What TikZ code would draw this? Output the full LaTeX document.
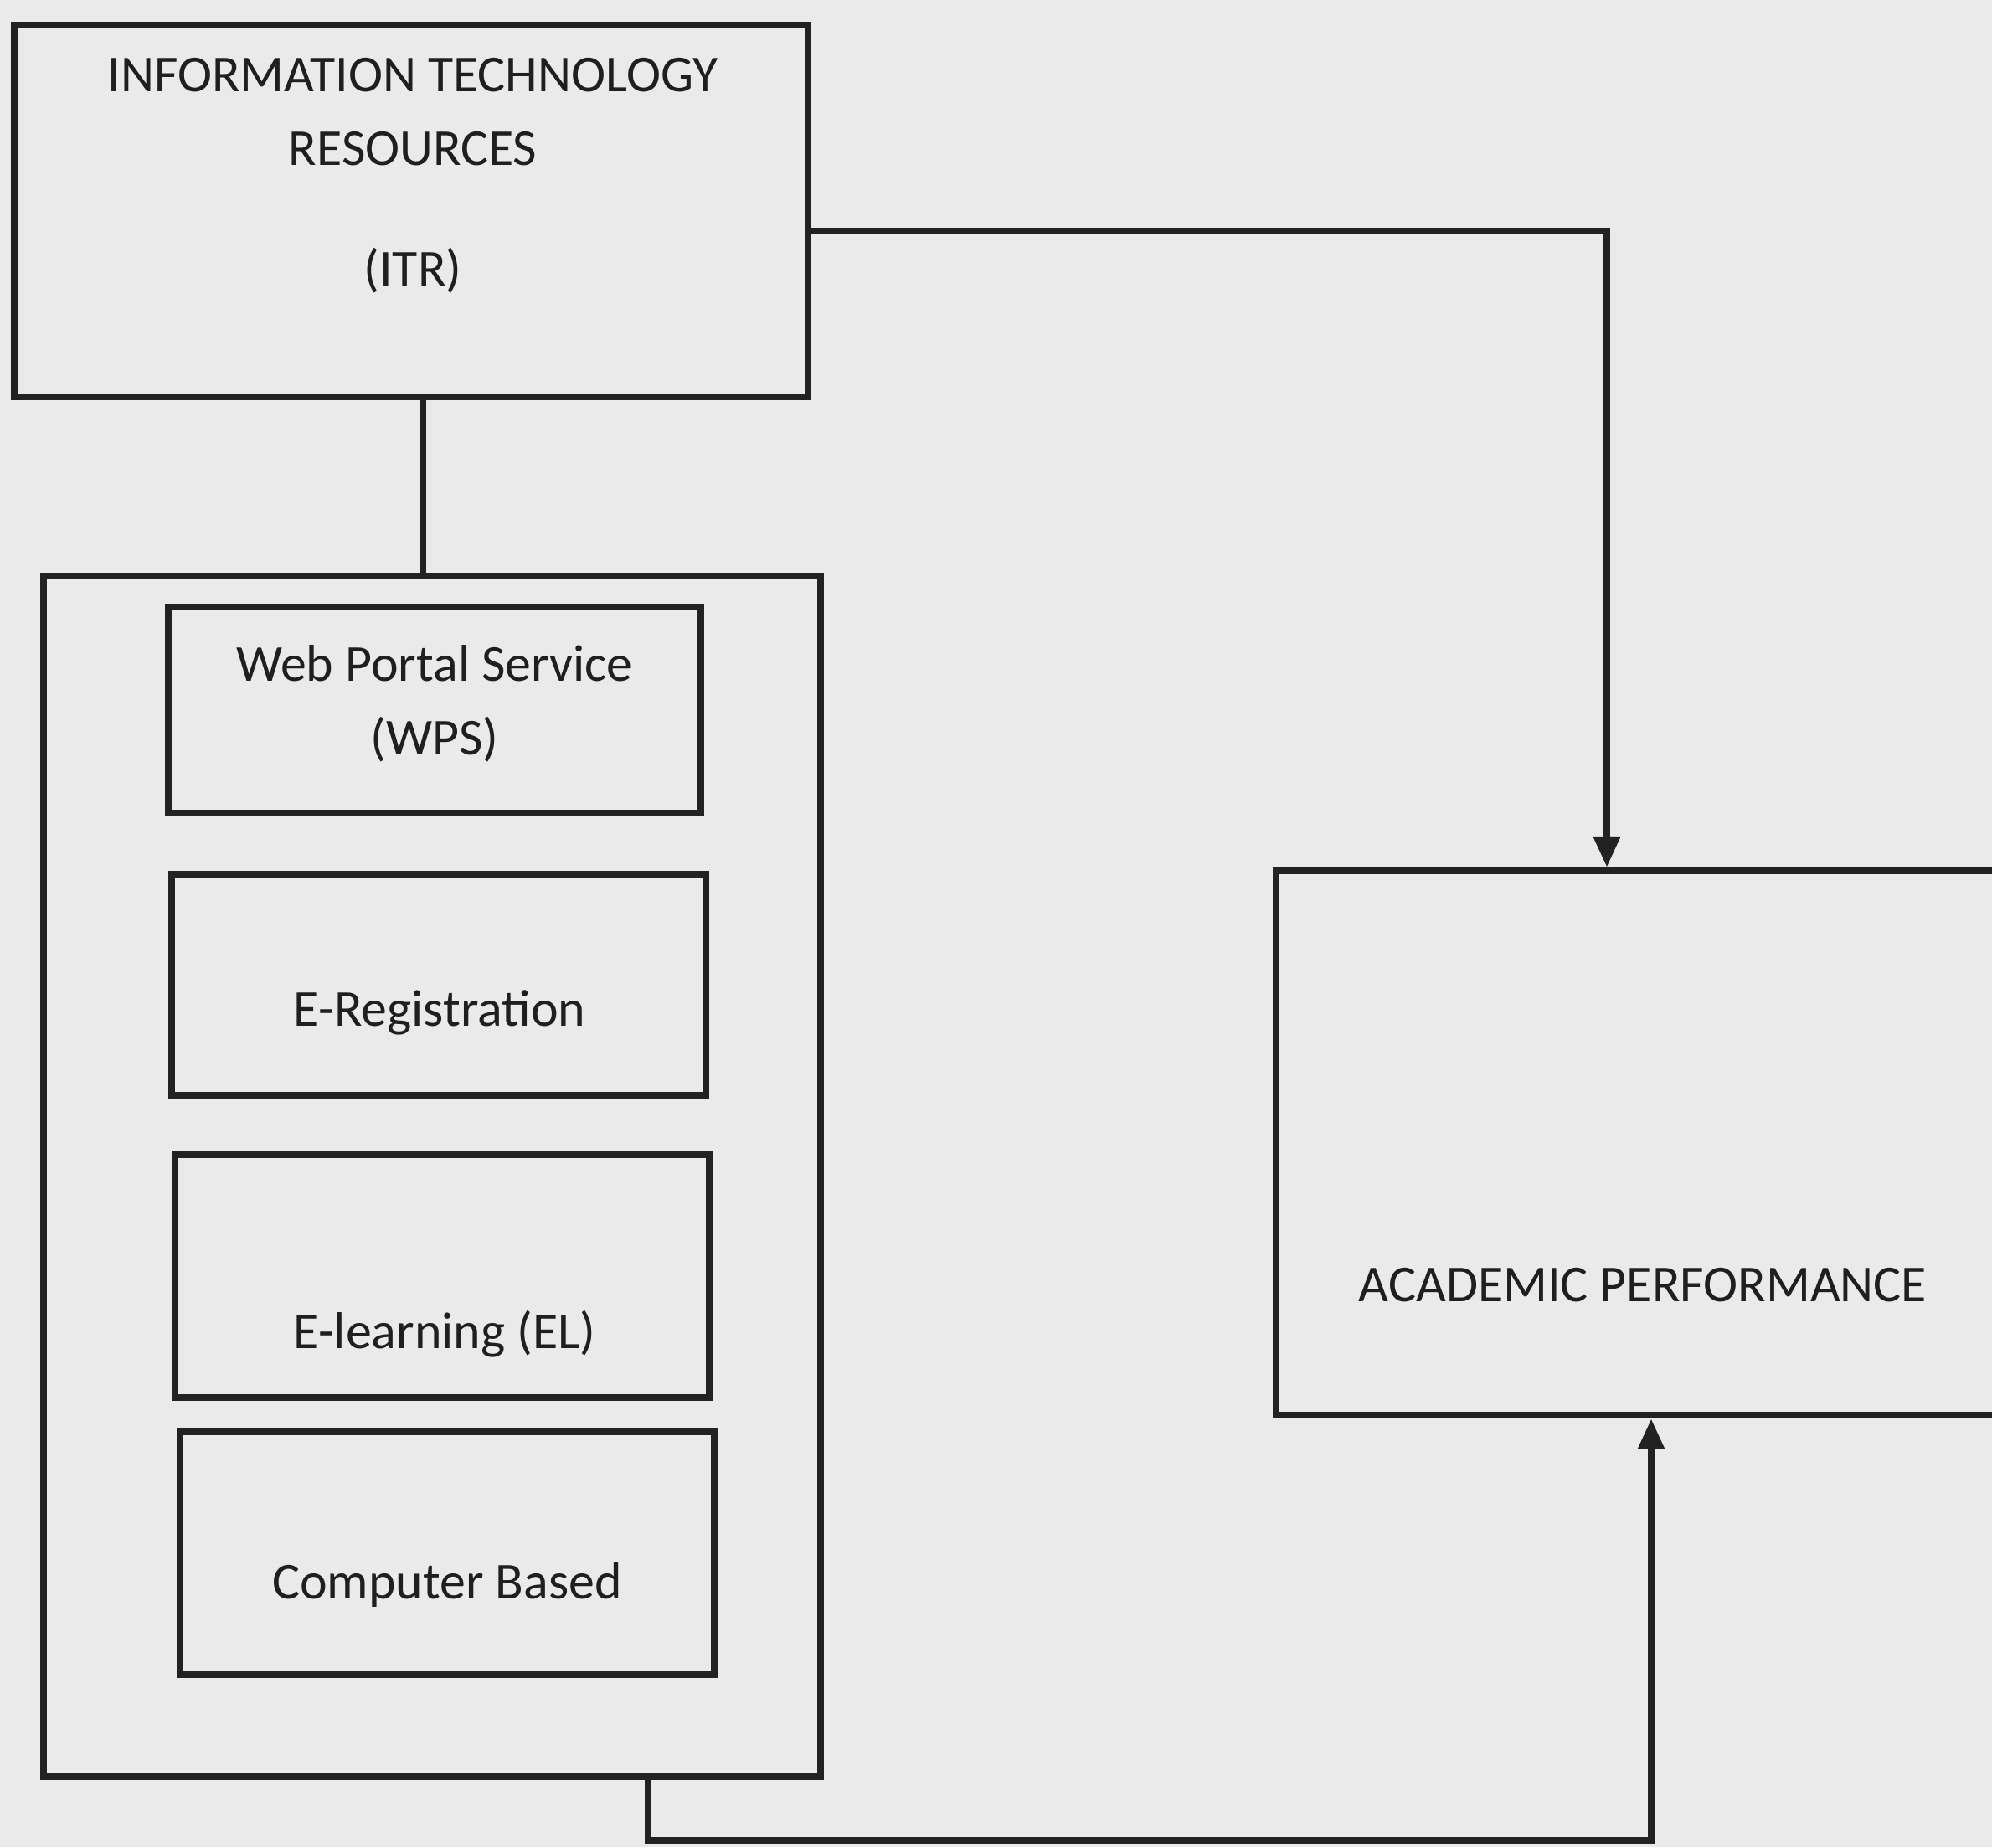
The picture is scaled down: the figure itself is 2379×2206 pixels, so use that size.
\documentclass[tikz,border=0pt]{standalone}
\usepackage{fontspec}
\setmainfont{Carlito}
\usetikzlibrary{arrows.meta,calc}
\definecolor{paper}{HTML}{EAEAEA}
\definecolor{ink}{HTML}{222222}
\tikzset{
  box/.style={draw=ink, line width=2.3pt, rectangle, inner sep=0pt},
  txt/.style={text=ink!90!black, font=\fontsize{17.6}{21}\selectfont, align=center, inner sep=0pt},
  conn/.style={draw=ink, line width=2.3pt},
  arr/.style={conn, -{Triangle[length=0.36cm, width=0.30cm]}}
}
\begin{document}
\begin{tikzpicture}[x=0.01cm, y=-0.01cm]
\useasboundingbox (0,0) rectangle (2379,2206);
\fill[paper] (0,0) rectangle (2379,2206);
\clip (0,0) rectangle (2379,2206);

% ITR box
\node[box, minimum width=9.47cm, minimum height=4.43cm] (itr) at (491,252) {};
\node[txt] (itrtxt) at (493,210) {INFORMATION TECHNOLOGY\\[0.14cm]RESOURCES\\[0.70cm](ITR)};

% outer container
\node[box, minimum width=9.27cm, minimum height=14.34cm] (outer) at (516,1405) {};

% inner boxes
\node[box, minimum width=6.35cm, minimum height=2.46cm] (wps) at (519,848) {};
\node[txt] (wpstxt) at (519,840) {Web Portal Service\\[0.14cm](WPS)};

\node[box, minimum width=6.38cm, minimum height=2.64cm] (ereg) at (524,1176) {};
\node[txt] (eregtxt) at (525,1209) {E-Registration};

\node[box, minimum width=6.38cm, minimum height=2.89cm] (el) at (528,1524) {};
\node[txt] (eltxt) at (531,1593) {E-learning (EL)};

\node[box, minimum width=6.38cm, minimum height=2.89cm] (cb) at (534,1855) {};
\node[txt] (cbtxt) at (534,1893) {Computer Based};

% academic performance
\node[box, minimum width=9.25cm, minimum height=6.50cm] (acad) at (1987,1365) {};
\node[txt] (acadtxt) at (1962,1535) {ACADEMIC PERFORMANCE};

% connectors
\coordinate (c1) at (505,0);
\draw[conn] (itr.south -| c1) -- (outer.north -| c1);

\coordinate (c2) at (0,276);
\coordinate (c3) at (1919,0);
\draw[arr] (itr.east |- c2) -| (acad.north -| c3);

\coordinate (c4) at (774,0);
\coordinate (c5) at (1972,2198);
\draw[arr] (outer.south -| c4) |- (c5) -- (acad.south -| c5);
\end{tikzpicture}
\end{document}
